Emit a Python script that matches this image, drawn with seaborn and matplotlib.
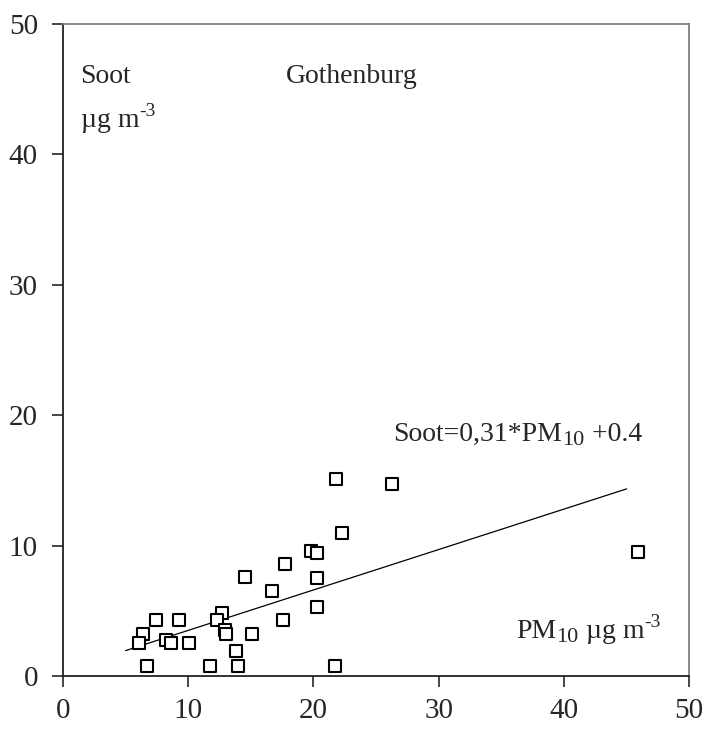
import matplotlib
matplotlib.use("Agg")
import matplotlib.pyplot as plt
import seaborn as sns
import numpy as np
import pandas as pd
from matplotlib.transforms import offset_copy

pm10 = [21.8, 26.3, 22.3, 19.8, 20.3, 17.7, 14.5, 20.3, 16.7, 20.3, 17.6, 12.7,
        12.3, 7.4, 9.3, 6.4, 6.1, 8.2, 8.6, 10.1, 12.9, 13.0, 15.1, 13.8, 6.7,
        11.7, 14.0, 21.7, 45.9]
soot = [15.1, 14.7, 11.0, 9.6, 9.4, 8.6, 7.6, 7.5, 6.5, 5.3, 4.3, 4.8,
        4.3, 4.3, 4.3, 3.2, 2.5, 2.8, 2.5, 2.5, 3.5, 3.2, 3.2, 1.9, 0.8,
        0.8, 0.8, 0.8, 9.5]
fit_x = [5, 45]
slope, intercept = 0.31, 0.4
xticks = [0, 10, 20, 30, 40, 50]
yticks = [0, 10, 20, 30, 40, 50]

df = pd.DataFrame({"pm10": pm10, "soot": soot})
fit = pd.DataFrame({"x": fit_x, "y": [slope * v + intercept for v in fit_x]})

sns.set_style("white")
plt.rcParams["font.family"] = ["Liberation Serif", "DejaVu Serif"]

fig = plt.figure(figsize=(7.06, 7.31), dpi=100)
ax = fig.add_axes([0.0892, 0.0752, 0.887, 0.892])

sns.scatterplot(data=df, x="pm10", y="soot", marker="s", s=72,
                facecolor="white", edgecolor="black", linewidth=1.5, ax=ax, zorder=3)
sns.lineplot(data=fit, x="x", y="y", color="black", linewidth=0.9, ax=ax, zorder=2)

ax.set_xlim(0, 50)
ax.set_ylim(0, 50)
ax.set_xticks(xticks)
ax.set_yticks(yticks)
ax.set_xlabel("")
ax.set_ylabel("")
fs = 21
ax.tick_params(axis="x", direction="out", length=8, width=1.2, pad=8, labelsize=fs, bottom=True)
ax.tick_params(axis="y", direction="out", length=8, width=1.2, pad=10, labelsize=fs, left=True)
for side in ["left", "bottom"]:
    ax.spines[side].set_color("#222222")
    ax.spines[side].set_linewidth(1.3)
for side in ["top", "right"]:
    ax.spines[side].set_color("#808080")
    ax.spines[side].set_linewidth(1.3)

fig.canvas.draw()
renderer = fig.canvas.get_renderer()


def rich(x, y, pieces):
    """pieces: list of (text, dy_points, size)"""
    trans = ax.transData
    dx = 0.0
    for txt, dy, size in pieces:
        t = ax.text(x, y, txt, fontsize=size, va="baseline", ha="left",
                    transform=offset_copy(trans, fig=fig, x=dx, y=dy, units="points"))
        bb = t.get_window_extent(renderer=renderer)
        dx += bb.width * 72.0 / fig.dpi


tfs = 20
rich(1.4, 45.5, [("Soot", 0, tfs)])
rich(1.4, 42.1, [("µg m", 0, tfs), ("-3", 8, 14)])
rich(17.8, 45.5, [("Gothenburg", 0, tfs)])
rich(26.4, 18.0, [("Soot=0,31*PM", 0, tfs), ("10", -3, 16), (" +0.4", 0, tfs)])
rich(36.2, 2.9, [("PM", 0, tfs), ("10", -3, 16), (" µg m", 0, tfs), ("-3", 8, 14)])

fig.savefig("out.png", dpi=100)
